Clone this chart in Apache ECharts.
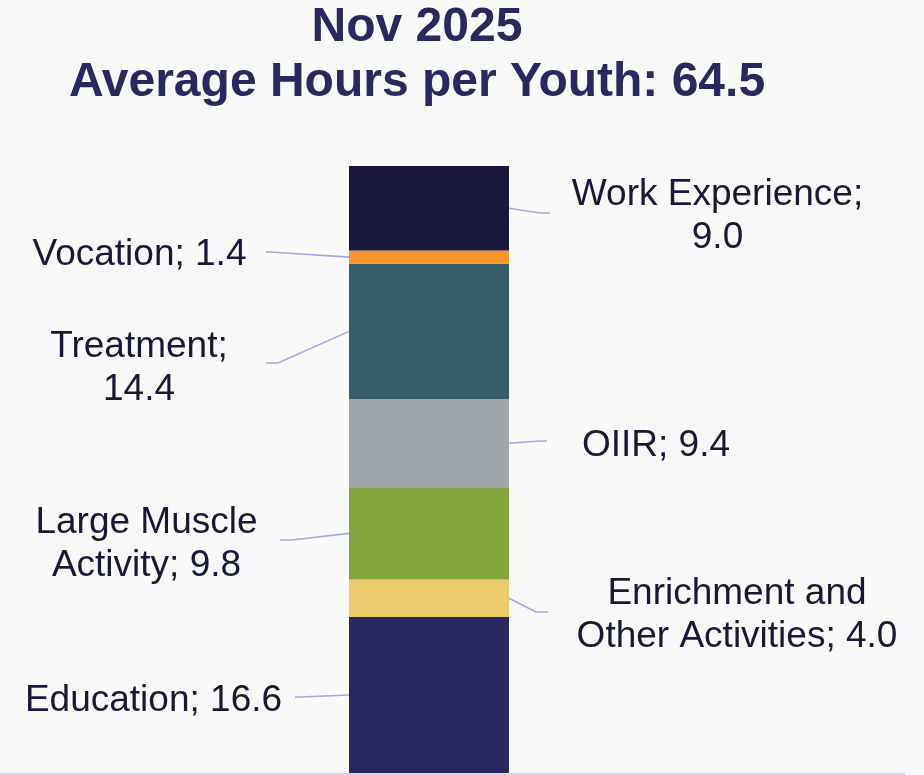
<!DOCTYPE html>
<html><head><meta charset="utf-8">
<script src="https://cdn.jsdelivr.net/npm/echarts@6/dist/echarts.min.js"></script>
<style>html,body{margin:0;padding:0;background:#f9f9f9}#c{width:924px;height:775px}</style>
</head><body><div id="c"></div>
<script>
// ---- data ----
const period = 'Nov 2025';
const titleLine2 = 'Average Hours per Youth: 64.5';
const categories = ['Education', 'Enrichment and Other Activities', 'Large Muscle Activity', 'OIIR', 'Treatment', 'Vocation', 'Work Experience'];
const labelTexts = ['Education; ', 'Enrichment and\nOther Activities; ', 'Large Muscle\nActivity; ', 'OIIR; ', 'Treatment;\n', 'Vocation; ', 'Work Experience;\n'];
const values = [16.6, 4.0, 9.8, 9.4, 14.4, 1.4, 9.0];

// ---- styles / layout ----
const colors = ['#282760', '#eaca6b', '#84a43c', '#9ea5ab', '#365e68', '#f9962a', '#1a183d'];
const labelPos = [
  {x: 153.5, y: 701,   side: 'left',  bend: [300, 697], end: [295, 697]},
  {x: 737,   y: 615,   side: 'right', bend: [536, 612], end: [548, 612]},
  {x: 146.5, y: 544,   side: 'left',  bend: [292, 540], end: [280, 540]},
  {x: 656,   y: 445.5, side: 'right', bend: [540, 441], end: [547, 441]},
  {x: 139,   y: 368,   side: 'left',  bend: [278, 363], end: [266, 363]},
  {x: 139.5, y: 254.5, side: 'left',  bend: [270, 252], end: [266, 252]},
  {x: 717.5, y: 216,   side: 'right', bend: [540, 213], end: [550, 213]}
];
const BAR_W = 160;
const FONT = '"Liberation Sans", Arial, sans-serif';

const total = values.reduce((a, b) => a + b, 0);
const chart = echarts.init(document.getElementById('c'), null, {renderer: 'canvas'});

chart.setOption({
  backgroundColor: '#f9f9f9',
  animation: false,
  title: {
    text: period + '\n' + titleLine2,
    left: 417, top: 0, padding: 0, textAlign: 'center',
    textStyle: {fontFamily: FONT, fontSize: 48, fontWeight: 'bold', lineHeight: 55, color: '#29285f'}
  },
  grid: {left: 0, right: 66, top: 166, bottom: 2},
  xAxis: {
    type: 'category', data: [period],
    axisLine: {show: false},
    axisTick: {show: false}, axisLabel: {show: false}, splitLine: {show: false}
  },
  yAxis: {type: 'value', min: 0, max: total, show: false, splitLine: {show: false}},
  series: values.map((v, i) => ({
    name: categories[i], type: 'bar', stack: 'total', barWidth: BAR_W,
    data: [v], itemStyle: {color: colors[i]}, z: 5,
    emphasis: {disabled: true}, silent: true,
    label: {
      show: true,
      formatter: p => labelTexts[i] + Number(p.value).toFixed(1),
      fontFamily: FONT, fontSize: 37, lineHeight: 43, color: '#181838', align: 'center'
    },
    labelLayout: () => ({x: labelPos[i].x, y: labelPos[i].y, align: 'center', verticalAlign: 'middle'})
  }))
});

// leader lines from each segment's middle on the bar edge
let cum = 0;
const xc = chart.convertToPixel({xAxisIndex: 0}, period);
const y0 = chart.convertToPixel({yAxisIndex: 0}, 0);
const lines = values.map((v, i) => {
  const ym = chart.convertToPixel({yAxisIndex: 0}, cum + v / 2);
  cum += v;
  const xe = labelPos[i].side === 'left' ? xc - BAR_W / 2 : xc + BAR_W / 2;
  return {
    type: 'polyline', silent: true, z: 100,
    shape: {points: [[xe, ym], labelPos[i].bend, labelPos[i].end]},
    style: {stroke: '#a9a6e2', lineWidth: 1.6, fill: null}
  };
});
// baseline across the plot
lines.push({
  type: 'line', silent: true, z: 0,
  shape: {x1: 0, y1: y0 + 1, x2: 905, y2: y0 + 1},
  style: {stroke: '#d8d5ef', lineWidth: 2}
});
chart.setOption({graphic: lines});
</script>
</body></html>
